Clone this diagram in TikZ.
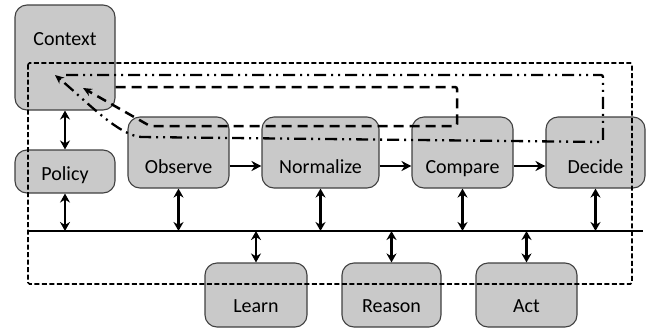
\documentclass[tikz,border=0pt]{standalone}
\usepackage{fontspec}
\setmainfont{Carlito}
\usetikzlibrary{arrows.meta,calc}
\begin{document}
\begin{tikzpicture}[x=1pt,y=-1pt,
  box/.style={draw=black!75, line width=1.1pt, fill=gray!42, rounded corners=12pt, inner sep=0pt},
  lbl/.style={font=\fontsize{20}{24}\selectfont, inner sep=0pt, anchor=base},
  bus/.style={line width=2.6pt},
  dbl/.style={line width=2.6pt, {Stealth[length=9pt,width=10pt]}-{Stealth[length=9pt,width=10pt]}},
  flow/.style={line width=2pt, -{Stealth[length=10pt,width=10pt]}},
  frame/.style={line width=1.6pt, dash pattern=on 5pt off 2.5pt, rounded corners=1.5pt},
  loopA/.style={line width=2.5pt, dash pattern=on 10pt off 6pt, rounded corners=2pt, -{Stealth[length=9pt,width=8pt]}},
  loopB/.style={line width=2.3pt, dash pattern=on 12pt off 5pt on 2pt off 5pt on 2pt off 5pt, rounded corners=2pt, -{Stealth[length=9pt,width=8pt]}},
]
\useasboundingbox (0,0) rectangle (656,333);

% boxes
\node[box, minimum width=100pt, minimum height=105pt] (ctx) at (65,57.5) {};
\node[box, minimum width=100pt, minimum height=43pt]  (pol) at (65,171.5) {};
\node[box, minimum width=101pt, minimum height=71pt]  (obs) at (178.5,152.5) {};
\node[box, minimum width=117pt, minimum height=71pt]  (nor) at (320.5,152.5) {};
\node[box, minimum width=101pt, minimum height=71pt]  (cmp) at (462.5,152.5) {};
\node[box, minimum width=99pt,  minimum height=71pt]  (dec) at (595.5,152.5) {};
\node[box, minimum width=102pt, minimum height=64pt]  (lrn) at (256,295) {};
\node[box, minimum width=99pt,  minimum height=64pt]  (rsn) at (391.5,295) {};
\node[box, minimum width=101pt, minimum height=64pt]  (act) at (526.5,295) {};

% labels
\node[lbl] (tctx) at (65,45)   {Context};
\node[lbl] (tpol) at (65,180)  {Policy};
\node[lbl] (tobs) at (178.5,173) {Observe};
\node[lbl] (tnor) at (320.5,173) {Normalize};
\node[lbl] (tcmp) at (462.5,173) {Compare};
\node[lbl] (tdec) at (595.5,173) {Decide};
\node[lbl] (tlrn) at (256,312)   {Learn};
\node[lbl] (trsn) at (391.5,312) {Reason};
\node[lbl] (tact) at (526.5,312) {Act};

% dashed frame
\coordinate (f1) at (28,63);
\coordinate (f2) at (632,284);
\draw[frame] (f1) rectangle (f2);

% feedback loops
\coordinate (a0) at (ctx.east |- 0,87);
\coordinate (a1) at (457,87);
\coordinate (a2) at (457,126);
\coordinate (a3) at (150,126);
\coordinate (a4) at (83,88);
\draw[loopA] (a0) -- (a1) -- (a2) -- (a3) -- (a4);

\coordinate (b0) at (66,75);
\coordinate (b1) at (603,75);
\coordinate (b2) at (603,142);
\coordinate (b3) at (140,137);
\coordinate (b4) at (55,75);
\draw[loopB] (b0) -- (b1) -- (b2) -- (b3) .. controls (115,132) and (85,100) .. (b4);

% bus
\coordinate (busL) at (28,231);
\coordinate (busR) at (643,231);
\draw[bus] (busL) -- (busR);

% vertical links
\draw[dbl] (ctx.south) -- (pol.north);
\draw[dbl] (pol.south) -- (pol.south |- busL);
\draw[dbl] (obs.south) -- (obs.south |- busL);
\draw[dbl] (nor.south) -- (nor.south |- busL);
\draw[dbl] (cmp.south) -- (cmp.south |- busL);
\draw[dbl] (dec.south) -- (dec.south |- busL);
\draw[dbl] (lrn.north |- busL) -- (lrn.north);
\draw[dbl] (rsn.north |- busL) -- (rsn.north);
\draw[dbl] (act.north |- busL) -- (act.north);

% pipeline
\draw[flow] (obs.east |- 0,166) -- (nor.west |- 0,166);
\draw[flow] (nor.east |- 0,166) -- (cmp.west |- 0,166);
\draw[flow] (cmp.east |- 0,166) -- (dec.west |- 0,166);
\end{tikzpicture}
\end{document}
